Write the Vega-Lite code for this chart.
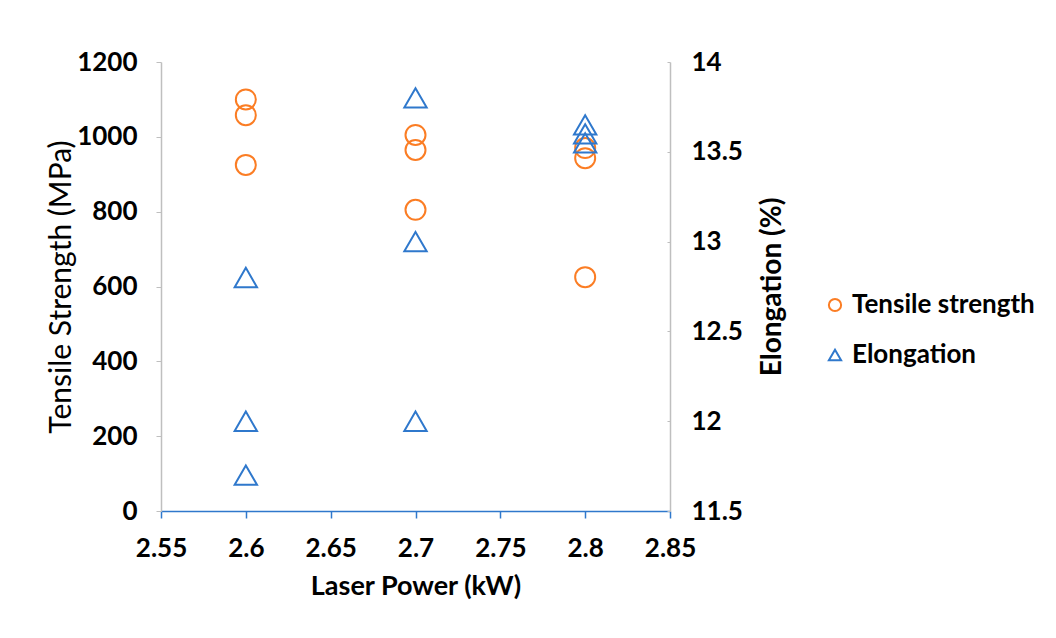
{
  "$schema": "https://vega.github.io/schema/vega-lite/v6.json",
  "width": 509,
  "height": 449,
  "autosize": {"type": "none"},
  "padding": {"left": 161, "top": 62, "right": 386, "bottom": 127},
  "background": "white",
  "config": {
    "view": {"stroke": null},
    "font": "Lato",
    "axis": {"grid": false, "labelFont": "Lato", "titleFont": "Lato", "labelColor": "#000000", "titleColor": "#000000"}
  },
  "data": {
    "values": [
      {"power": 2.6, "value": 1100, "series": "Tensile strength"},
      {"power": 2.6, "value": 1058, "series": "Tensile strength"},
      {"power": 2.6, "value": 925, "series": "Tensile strength"},
      {"power": 2.7, "value": 1005, "series": "Tensile strength"},
      {"power": 2.7, "value": 965, "series": "Tensile strength"},
      {"power": 2.7, "value": 805, "series": "Tensile strength"},
      {"power": 2.8, "value": 970, "series": "Tensile strength"},
      {"power": 2.8, "value": 943, "series": "Tensile strength"},
      {"power": 2.8, "value": 625, "series": "Tensile strength"},
      {"power": 2.6, "value": 12.8, "series": "Elongation"},
      {"power": 2.6, "value": 12.0, "series": "Elongation"},
      {"power": 2.6, "value": 11.7, "series": "Elongation"},
      {"power": 2.7, "value": 13.8, "series": "Elongation"},
      {"power": 2.7, "value": 13.0, "series": "Elongation"},
      {"power": 2.7, "value": 12.0, "series": "Elongation"},
      {"power": 2.8, "value": 13.65, "series": "Elongation"},
      {"power": 2.8, "value": 13.6, "series": "Elongation"},
      {"power": 2.8, "value": 13.55, "series": "Elongation"}
    ]
  },
  "encoding": {
    "x": {
      "field": "power",
      "type": "quantitative",
      "scale": {"domain": [2.55, 2.85], "nice": false, "zero": false},
      "axis": {
        "title": "Laser Power (kW)",
        "values": [2.55, 2.6, 2.65, 2.7, 2.75, 2.8, 2.85],
        "format": "~g",
        "labelFlush": false,
        "domainColor": "#2f78cc",
        "domainWidth": 1.5,
        "tickColor": "#2f78cc",
        "tickWidth": 1.5,
        "tickSize": 7,
        "labelFontSize": 26,
        "labelFontWeight": "bold",
        "labelPadding": 17,
        "titleFontSize": 27,
        "titleFontWeight": "bold",
        "titlePadding": 12
      }
    },
    "color": {
      "field": "series",
      "type": "nominal",
      "scale": {"domain": ["Tensile strength", "Elongation"], "range": ["#fb7d24", "#2f78cc"]},
      "legend": {
        "title": null,
        "orient": "none",
        "legendX": 661,
        "legendY": 230,
        "labelFontSize": 26,
        "labelFontWeight": "bold",
        "labelColor": "#000000",
        "labelFont": "Lato",
        "labelLimit": 400,
        "symbolSize": 150,
        "symbolStrokeWidth": 2,
        "symbolFillColor": "transparent",
        "rowPadding": 24,
        "labelOffset": 4
      }
    },
    "shape": {
      "field": "series",
      "type": "nominal",
      "scale": {"domain": ["Tensile strength", "Elongation"], "range": ["circle", "triangle-up"]}
    }
  },
  "layer": [
    {
      "transform": [{"filter": "datum.series === 'Tensile strength'"}],
      "mark": {"type": "point", "filled": false, "size": 400, "strokeWidth": 2, "opacity": 1},
      "encoding": {
        "y": {
          "field": "value",
          "type": "quantitative",
          "scale": {"domain": [0, 1200], "nice": false},
          "axis": {
            "title": "Tensile Strength (MPa)",
            "orient": "left",
            "values": [0, 200, 400, 600, 800, 1000, 1200],
            "format": "d",
            "domainColor": "#bfbfbf",
            "domainWidth": 1.5,
            "tickColor": "#bfbfbf",
            "tickSize": 5,
            "labelFontSize": 26,
            "labelFontWeight": "bold",
            "labelPadding": 19,
            "titleFontSize": 30,
            "titleFontWeight": "normal",
            "titlePadding": 0
          }
        }
      }
    },
    {
      "transform": [{"filter": "datum.series === 'Elongation'"}],
      "mark": {"type": "point", "filled": false, "size": 500, "strokeWidth": 2, "opacity": 1},
      "encoding": {
        "y": {
          "field": "value",
          "type": "quantitative",
          "scale": {"domain": [11.5, 14], "nice": false, "zero": false},
          "axis": {
            "title": "Elongation (%)",
            "orient": "right",
            "values": [11.5, 12, 12.5, 13, 13.5, 14],
            "format": "~g",
            "domainColor": "#bfbfbf",
            "domainWidth": 1.5,
            "tickColor": "#bfbfbf",
            "tickSize": -3,
            "labelFontSize": 26,
            "labelFontWeight": "bold",
            "labelPadding": 24,
            "titleFontSize": 28,
            "titleFontWeight": "bold",
            "titleAngle": -90,
            "titleBaseline": "top",
            "titlePadding": 16
          }
        }
      }
    }
  ],
  "resolve": {"scale": {"y": "independent"}}
}
